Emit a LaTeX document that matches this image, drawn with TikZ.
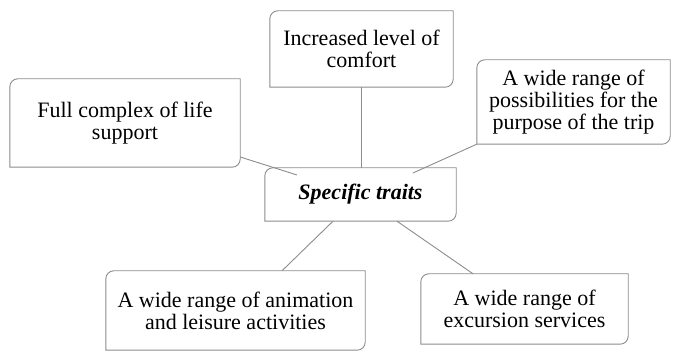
\documentclass[tikz,border=0pt]{standalone}
\usepackage{fontspec}
\setmainfont{Liberation Serif}
\usetikzlibrary{calc}
\definecolor{edge}{HTML}{8C8C8C}
\tikzset{
  box/.style={draw=none, align=center, inner sep=0pt, font=\fontsize{22}{22}\selectfont},
  link/.style={draw=edge, line width=0.9pt},
}
\newcommand\tlbrbox[1]{%
  \draw[link] ($(#1.north west)+(0,-8)$) arc[start angle=180,end angle=90,radius=8pt]
    -- (#1.north east) -- ($(#1.south east)+(0,8)$)
    arc[start angle=0,end angle=-90,radius=8pt] -- (#1.south west) -- cycle;}
\begin{document}
\begin{tikzpicture}[x=1pt,y=1pt]
\useasboundingbox (0,0) rectangle (678,352);
\node[box, minimum width=230pt, minimum height=88pt] (L) at (125,229) {Full complex of life\\support};
\node[box, minimum width=183pt, minimum height=76pt] (T) at (361.5,303) {Increased level of\\comfort};
\node[box, minimum width=193pt, minimum height=84pt] (R) at (573.5,250) {A wide range of\\possibilities for the\\purpose of the trip};
\node[box, minimum width=191pt, minimum height=53pt] (C) at (360.5,157.5) {\textbf{\textit{Specific traits}}};
\node[box, minimum width=259pt, minimum height=79pt] (BL) at (235.5,41.5) {A wide range of animation\\and leisure activities};
\node[box, minimum width=207pt, minimum height=70pt] (BR) at (524.5,43) {A wide range of\\excursion services};
\foreach \n in {L,T,R,C,BL,BR} {\tlbrbox{\n}}
\draw[link] ($(L.east)+(0,-34)$) -- ($(C.center)+(-63.5,19.5)$);
\draw[link] (T.south) -- (T.south |- C.north);
\draw[link] (R.south west) -- ($(C.center)+(52.5,21.5)$);
\draw[link] ($(C.south)+(-27.5,0)$) -- ($(BL.north)+(46.5,0)$);
\draw[link] ($(C.south)+(36.5,0)$) -- ($(BR.north)+(-51.5,0)$);
\end{tikzpicture}
\end{document}
